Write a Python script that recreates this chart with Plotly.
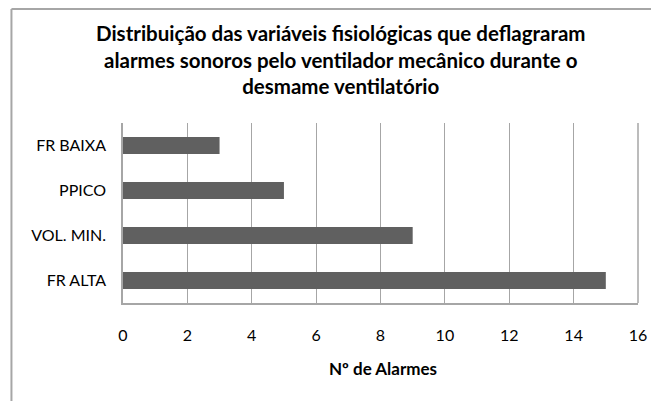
import plotly.graph_objects as go

# dados
categorias = ['FR ALTA', 'VOL. MIN.', 'PPICO', 'FR BAIXA']
alarmes = [15, 9, 5, 3]
ticks_x = [0, 2, 4, 6, 8, 10, 12, 14, 16]

FONTE = 'Lato, Noto Sans, sans-serif'
CINZA = '#a6a6a6'

# a página tem 8px de margem no body, então a figura é 8px menor
fig = go.Figure(go.Bar(
    x=alarmes,
    y=categorias,
    orientation='h',
    marker=dict(color='#606060', line=dict(width=0)),
    hoverinfo='x+y',
))

fig.update_layout(
    width=651,
    height=393,
    paper_bgcolor='white',
    plot_bgcolor='white',
    showlegend=False,
    bargap=0.62,
    margin=dict(l=115, r=19, t=115, b=98),
    font=dict(family=FONTE, size=16, color='#000000'),
)

fig.update_xaxes(
    range=[0, 16],
    tickvals=ticks_x,
    showgrid=True,
    gridcolor=CINZA,
    gridwidth=1,
    zeroline=False,
    showline=True,
    linecolor=CINZA,
    linewidth=1.5,
    ticks='',
    ticklabelstandoff=17,
    tickfont=dict(size=16),
    fixedrange=True,
)
fig.update_yaxes(
    showgrid=False,
    zeroline=False,
    showline=True,
    linecolor=CINZA,
    linewidth=1.5,
    ticks='',
    ticklabelstandoff=12,
    tickfont=dict(size=16),
    fixedrange=True,
)

# borda direita da área do gráfico
fig.add_shape(type='line', xref='paper', yref='paper', x0=1, x1=1, y0=0, y1=1,
              line=dict(color=CINZA, width=1.5))

# moldura externa (esquerda e topo)
fig.add_shape(type='line', xref='paper', yref='paper', x0=-0.2166, x1=-0.2166,
              y0=-0.6, y1=1.633, line=dict(color=CINZA, width=2))
fig.add_shape(type='line', xref='paper', yref='paper', x0=-0.2166, x1=1.1,
              y0=1.633, y1=1.633, line=dict(color=CINZA, width=2))

# título
fig.add_annotation(
    text='<b>Distribuição das variáveis fisiológicas que deflagraram<br>'
         'alarmes sonoros pelo ventilador mecânico durante o<br>'
         'desmame ventilatório</b>',
    xref='paper', yref='paper', x=0.4217, y=1.35,
    xanchor='center', yanchor='middle', showarrow=False,
    font=dict(family=FONTE, size=20.5, color='#000000'),
)

# título do eixo x
fig.add_annotation(
    text='<b>Nº de Alarmes</b>',
    xref='paper', yref='paper', x=0.505, y=(295 - 360) / 180,
    xanchor='center', yanchor='middle', showarrow=False,
    font=dict(family=FONTE, size=17, color='#000000'),
)

fig.write_html("out.html")
